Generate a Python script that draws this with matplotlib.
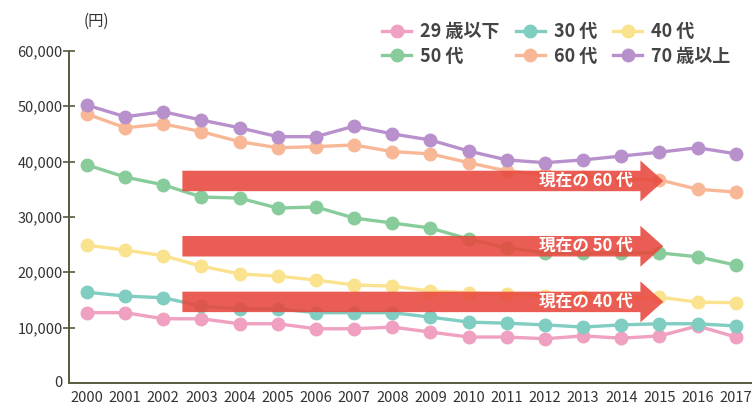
import matplotlib.pyplot as plt
import matplotlib.patches as mpatches

plt.rcParams['font.family'] = ['Noto Sans CJK JP', 'DejaVu Sans']

years = list(range(2000, 2018))

age_29 = [12700, 12700, 11600, 11600, 10700, 10700, 9800, 9800, 10100, 9200,
          8300, 8300, 8000, 8500, 8100, 8500, 10300, 8300]
age_30 = [16400, 15700, 15400, 13900, 13400, 13400, 12700, 12700, 12700, 11900,
          11000, 10800, 10500, 10100, 10500, 10700, 10700, 10300]
age_40 = [24900, 24000, 23000, 21100, 19700, 19300, 18600, 17700, 17500, 16600,
          16300, 16000, 15800, 15500, 15300, 15500, 14600, 14500]
age_50 = [39400, 37200, 35800, 33600, 33400, 31600, 31800, 29800, 28900, 28000,
          26000, 24400, 23500, 23400, 23500, 23500, 22800, 21300]
age_60 = [48600, 46100, 46800, 45400, 43600, 42500, 42700, 43000, 41800, 41400,
          39800, 38300, 37700, 37200, 36900, 36700, 35000, 34500]
age_70 = [50200, 48100, 49000, 47500, 46100, 44500, 44500, 46400, 45000, 43900,
          41900, 40300, 39800, 40300, 41000, 41700, 42500, 41400]

series_names = ['29 歳以下', '30 代', '40 代', '50 代', '60 代', '70 歳以上']
series_colors = ['#f0a0c0', '#80cdc2', '#fbe28e', '#88cc9c', '#f8b898', '#b891cc']

# arrows: label, level (yen), start year, tip year
arrow_labels = ['現在の 60 代', '現在の 50 代', '現在の 40 代']
arrow_levels = [36500, 24700, 14650]
arrow_start, arrow_end = 2002.5, 2015.1

fig = plt.figure(figsize=(7.52, 4.07), dpi=100)
ax = fig.add_axes([0.0918, 0.059, 0.908, 0.816])

all_series = [age_29, age_30, age_40, age_50, age_60, age_70]
handles = []
for vals, name, col in zip(all_series, series_names, series_colors):
    h, = ax.plot(years, vals, color=col, lw=2.4, marker='o', ms=9, label=name, zorder=2)
    handles.append(h)

for lab, lvl in zip(arrow_labels, arrow_levels):
    arr = mpatches.FancyArrow(arrow_start, lvl, arrow_end - arrow_start, 0,
                              width=3700, head_width=7400, head_length=0.6,
                              length_includes_head=True, color='#e8473c',
                              alpha=0.88, lw=0, zorder=3)
    ax.add_patch(arr)
    ax.text(2014.3, lvl, lab, color='white', fontsize=12, fontweight='bold',
            ha='right', va='center', zorder=4)

ax.set_xlim(1999.53, 2017.42)
ax.set_ylim(0, 60000)
ax.set_xticks(years)
ax.set_xticklabels([str(y) for y in years])
ax.set_yticks(range(10000, 60001, 10000))
ax.set_yticklabels([f'{v:,}' for v in range(10000, 60001, 10000)])
ax.text(-0.01, 0, '0', transform=ax.transAxes, fontsize=10.5, color='#333333',
        ha='right', va='center')
ax.tick_params(axis='x', length=0, pad=6, labelsize=10.5, colors='#333333')
ax.tick_params(axis='y', direction='inout', length=9, width=1.2, color='#5a5a40',
               labelsize=10.5, labelcolor='#333333', pad=0)
for s in ['top', 'right']:
    ax.spines[s].set_visible(False)
for s in ['left', 'bottom']:
    ax.spines[s].set_color('#5a5a40')
    ax.spines[s].set_linewidth(1.4)

fig.text(0.128, 0.948, '(円)', fontsize=11, color='#333333', ha='center', va='center')

# legend fills column-wise, reorder so rows read 29/30/40 then 50/60/70
order = [0, 3, 1, 4, 2, 5]
leg = fig.legend([handles[i] for i in order], [series_names[i] for i in order],
                 loc='upper right', bbox_to_anchor=(0.993, 0.985), ncol=3,
                 frameon=False, handlelength=1.6, columnspacing=0.9,
                 handletextpad=0.5, labelspacing=0.3,
                 prop={'weight': 'bold', 'size': 13})
for t in leg.get_texts():
    t.set_color('#444444')

fig.savefig('out.png', dpi=100)
